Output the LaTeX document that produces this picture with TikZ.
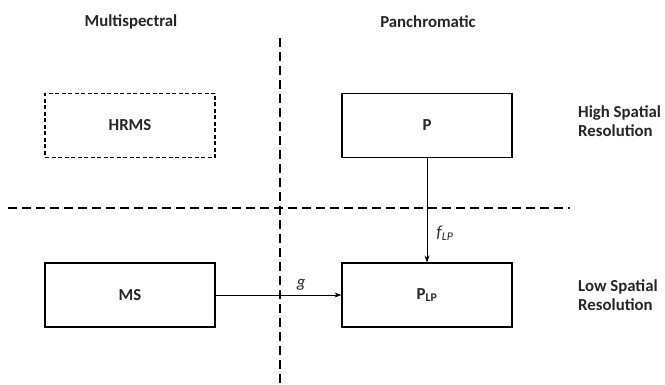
\documentclass[tikz,border=0pt]{standalone}
\usepackage{fontspec}
\setmainfont{Carlito}
\usetikzlibrary{positioning,arrows.meta}
\begin{document}
\begin{tikzpicture}[x=1pt,y=-1pt,font=\fontsize{16.8}{19}\selectfont\bfseries,
  text=black!85,
  imgbox/.style={draw=black,line width=1.1pt,minimum width=170pt,minimum height=64pt,inner sep=0pt},
  divider/.style={line width=1.8pt,dash pattern=on 9pt off 5pt},
  sidelabel/.style={align=left,anchor=west,inner sep=0pt},
  mapping/.style={line width=0.8pt,-{Stealth[length=7pt,width=5pt]}}]
\useasboundingbox (0,0) rectangle (665,385);
% dividers
\coordinate (vtop) at (280,38);
\coordinate (vbot) at (280,385);
\coordinate (hleft) at (8,208);
\coordinate (hright) at (570,208);
\draw [divider] (vtop) -- (vbot);
\draw [divider] (hleft) -- (hright);
% column headings
\node (mstitle) at (131,22) {Multispectral};
\node (pantitle) at (428,22) {Panchromatic};
% row headings
\node [sidelabel] (high) at (578,121) {High Spatial\\Resolution};
\node [sidelabel] (low) at (578,295) {Low Spatial\\Resolution};
% images
\node [imgbox,dash pattern=on 4pt off 2.5pt] (hrms) at (130,125.5) {HRMS};
\node [imgbox] (p) at (427,125.5) {P};
\node [imgbox] (ms) at (130,295) {MS};
\node [imgbox] (plp) at (427,295) {P\textsubscript{LP}};
% degradations
\draw [mapping] (p) -- node [right=6pt,pos=0.72,font=\fontsize{16.8}{19}\selectfont\itshape] (flp) {f\textsubscript{LP}} (plp);
\draw [mapping] (ms) -- node [above=1pt,pos=0.68,font=\fontsize{16.8}{19}\selectfont\itshape] (g) {g} (plp);
\end{tikzpicture}
\end{document}
